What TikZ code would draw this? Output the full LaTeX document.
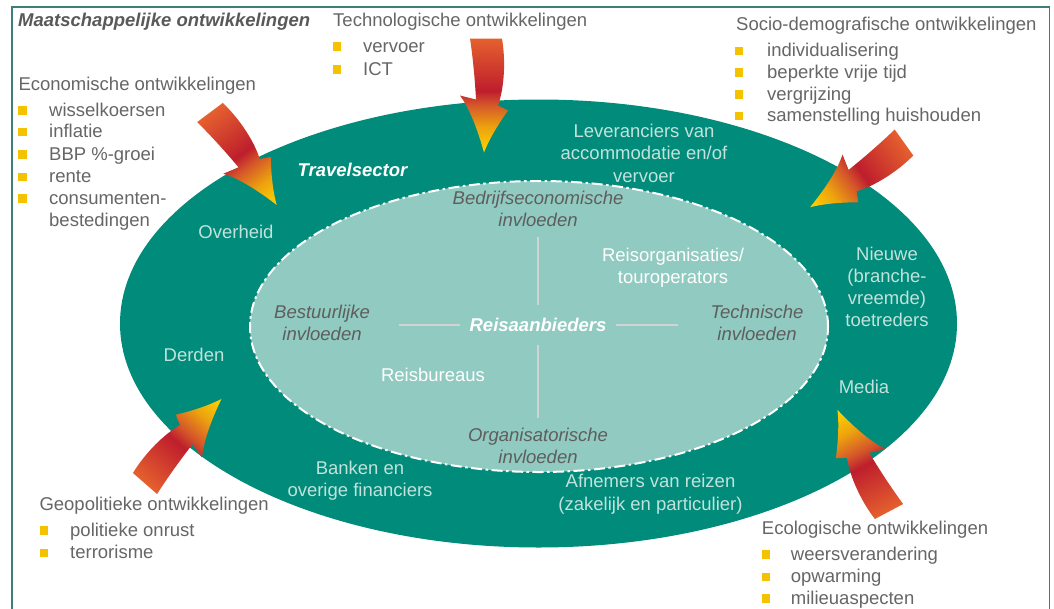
\documentclass[tikz,border=0pt]{standalone}
\usepackage{fontspec}
\setmainfont{Liberation Sans}
\usetikzlibrary{shapes.geometric}

\definecolor{ringteal}{HTML}{008B7A}
\definecolor{coreteal}{HTML}{90CAC1}
\definecolor{frameteal}{HTML}{3C7E79}
\definecolor{txtgray}{HTML}{666666}
\definecolor{titlegray}{HTML}{595959}
\definecolor{ringtxt}{HTML}{C2E2DC}
\definecolor{coretxt}{HTML}{5E5E5E}
\definecolor{bulletyellow}{HTML}{F5C200}
\definecolor{crossgray}{HTML}{D3D3D3}
\definecolor{swyellow}{HTML}{FFD600}
\definecolor{sworange}{HTML}{EDA30E}
\definecolor{swredorange}{HTML}{D4562A}
\definecolor{swred}{HTML}{BE1E2D}
\definecolor{swtail}{HTML}{E5602E}

% colour run of the curved arrows: tip (bottom) to tail (top)
\pgfdeclareverticalshading{swoosharrow}{100bp}{color(0bp)=(swyellow); color(25bp)=(swyellow); color(36bp)=(sworange); color(46bp)=(swredorange); color(52bp)=(swred); color(75bp)=(swtail); color(100bp)=(swtail)}

\newcommand\dsz{\fontsize{18.5}{22.3}\selectfont}

% curved block arrow, tail centre at the origin, pointing down
\newcommand\swooshshape{%
  \shade[shading=swoosharrow] (-16,0) -- (16,0)
    .. controls (20,24) and (18,50) .. (12,67) -- (22,72)
    .. controls (12,86) and (3,101) .. (-2,114)
    .. controls (-7,96) and (-15,72) .. (-26,57) -- (-10,61)
    .. controls (-11,42) and (-13,20) .. (-16,0) -- cycle;}

\begin{document}
\begin{tikzpicture}[x=1pt,y=-1pt,
  outtxt/.style={font=\dsz, text=txtgray, inner sep=0pt, anchor=base west},
  bullet/.style={fill=bulletyellow, minimum size=8.5pt, inner sep=0pt},
  ringlbl/.style={font=\dsz, text=ringtxt, align=center, inner sep=0pt},
  corelbl/.style={font=\dsz\itshape, text=coretxt, align=center, inner sep=0pt},
  corewhite/.style={font=\dsz, text=white, align=center, inner sep=0pt},
  crossline/.style={draw=crossgray, line width=2pt}]

\useasboundingbox (0,0) rectangle (1054,608);
\fill[white] (0,0) rectangle (1054,608);

% outer frame
\draw[frameteal, line width=1.4pt] (12,7) rectangle (1049.5,650);

% travel sector ring and core
\node[ellipse, fill=ringteal, minimum width=837pt, minimum height=448pt, inner sep=0pt] (ring) at (538.5,323.5) {};
\node[ellipse, fill=coreteal, draw=white, line width=2pt,
      dash pattern=on 11pt off 3.5pt on 2.5pt off 3.5pt,
      minimum width=578pt, minimum height=291pt, inner sep=0pt] (core) at (539,326.5) {};

% ring labels
\node[font=\dsz\bfseries\itshape, text=white, inner sep=0pt, anchor=base] (travel) at (352.5,176.7) {Travelsector};
\node[ringlbl, anchor=base] (overheid) at (236,238.5) {Overheid};
\node[ringlbl, anchor=base] (derden) at (194,361.5) {Derden};
\node[ringlbl] (banken) at (360,481) {\strut Banken en\\overige financiers\strut};
\node[ringlbl] (afnemers) at (650.5,494.4) {\strut Afnemers van reizen\\(zakelijk en particulier)\strut};
\node[ringlbl, anchor=base] (media) at (864,393.5) {Media};
\node[ringlbl] (nieuwe) at (887,289) {\strut Nieuwe\\(branche-\\vreemde)\\toetreders\strut};
\node[ringlbl] (lever) at (644,155.5) {\strut Leveranciers van\\accommodatie en/of\\vervoer\strut};

% core labels
\node[corelbl] (bedr) at (538,211.2) {\strut Bedrijfseconomische\\invloeden\strut};
\node[corelbl] (bestuur) at (322,325.3) {\strut Bestuurlijke\\invloeden\strut};
\node[corelbl] (techn) at (757,325.3) {\strut Technische\\invloeden\strut};
\node[corelbl] (organ) at (538,448.3) {\strut Organisatorische\\invloeden\strut};
\node[font=\dsz\bfseries\itshape, text=white, inner sep=0pt, anchor=base] (reis) at (538,331.6) {Reisaanbieders};
\node[corewhite] (touro) at (673,268.3) {\strut Reisorganisaties/\\touroperators\strut};
\node[corewhite, anchor=base] (bureaus) at (433,381.6) {Reisbureaus};

% cross between the influences
\draw[crossline, shorten <=3pt, shorten >=13pt] (bedr.south) -- (reis.north);
\draw[crossline, shorten <=13.5pt, shorten >=8pt] (reis.south) -- (organ.north);
\draw[crossline, shorten <=9.5pt, shorten >=29pt] (reis.west) -- (reis.west -| bestuur.east);
\draw[crossline, shorten <=9.5pt, shorten >=32.5pt] (reis.east) -- (reis.east -| techn.west);

% societal developments
\node[font=\dsz\bfseries\itshape, text=titlegray, inner sep=0pt, anchor=base west] (maatsch) at (18,26) {Maatschappelijke ontwikkelingen};

\node[outtxt] (techtitle) at (333,26.5) {Technologische ontwikkelingen};
\node[bullet] (tb1) at (337,46.5) {};
\node[outtxt] (tt1) at (363,52.5) {vervoer};
\node[bullet] (tb2) at (337,69.5) {};
\node[outtxt] (tt2) at (363,75.5) {ICT};

\node[outtxt] (sociotitle) at (736,30.7) {Socio-demografische ontwikkelingen};
\node[bullet] (sb1) at (739,51) {};
\node[outtxt] (st1) at (767,56.7) {individualisering};
\node[bullet] (sb2) at (739,72.7) {};
\node[outtxt] (st2) at (767,78.3) {beperkte vrije tijd};
\node[bullet] (sb3) at (739,94.4) {};
\node[outtxt] (st3) at (767,100) {vergrijzing};
\node[bullet] (sb4) at (739,116) {};
\node[outtxt] (st4) at (767,121.7) {samenstelling huishouden};

\node[outtxt] (ecotitle) at (18.3,90) {Economische ontwikkelingen};
\node[bullet] (eb1) at (22.5,110.5) {};
\node[outtxt] (et1) at (49,116) {wisselkoersen};
\node[bullet] (eb2) at (22.5,132.2) {};
\node[outtxt] (et2) at (49,137.7) {inflatie};
\node[bullet] (eb3) at (22.5,154.5) {};
\node[outtxt] (et3) at (49,160) {BBP \%-groei};
\node[bullet] (eb4) at (22.5,177.2) {};
\node[outtxt] (et4) at (49,182.7) {rente};
\node[bullet] (eb5) at (22.5,198.5) {};
\node[outtxt] (et5) at (49,204) {consumenten-};
\node[outtxt] (et6) at (49,226.7) {bestedingen};

\node[outtxt] (geotitle) at (39.3,510.7) {Geopolitieke ontwikkelingen};
\node[bullet] (gb1) at (43.8,530.5) {};
\node[outtxt] (gt1) at (70,536) {politieke onrust};
\node[bullet] (gb2) at (43.8,552.8) {};
\node[outtxt] (gt2) at (70,558.3) {terrorisme};

\node[outtxt] (ecologtitle) at (761.7,534) {Ecologische ontwikkelingen};
\node[bullet] (lb1) at (766,554.5) {};
\node[outtxt] (lt1) at (790.7,560) {weersverandering};
\node[bullet] (lb2) at (766,576.8) {};
\node[outtxt] (lt2) at (790.7,582.3) {opwarming};
\node[bullet] (lb3) at (766,598.5) {};
\node[outtxt] (lt3) at (790.7,604) {milieuaspecten};

% influence arrows pressing on the sector
\begin{scope}[transform canvas={shift={(210,112.5)}, rotate=36.8}]
  \swooshshape
\end{scope}
\begin{scope}[transform canvas={shift={(486,38.5)}}]
  \swooshshape
\end{scope}
\begin{scope}[transform canvas={shift={(904,142.5)}, rotate=-54.4}]
  \swooshshape
\end{scope}
\begin{scope}[transform canvas={shift={(145,483.5)}, rotate=138.9}]
  \swooshshape
\end{scope}
\begin{scope}[transform canvas={shift={(889,511.5)}, rotate=207.9}]
  \swooshshape
\end{scope}

\end{tikzpicture}
\end{document}
